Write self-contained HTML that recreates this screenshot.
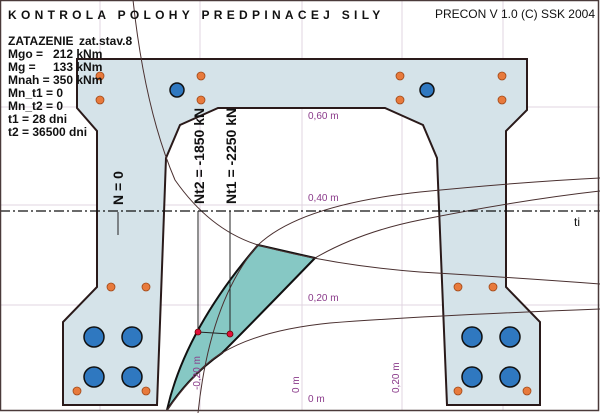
<!DOCTYPE html>
<html><head><meta charset="utf-8"><style>
html,body{margin:0;padding:0;background:#fff;}
svg{display:block;}
text{font-family:"Liberation Sans",Arial,sans-serif;}
</style></head><body>
<svg width="600" height="413" viewBox="0 0 600 413" xmlns="http://www.w3.org/2000/svg">
<rect x="0" y="0" width="600" height="413" fill="#fff"/>
<g stroke="#e0d4e0" stroke-width="1">
<line x1="100" y1="0" x2="100" y2="410"/>
<line x1="200" y1="0" x2="200" y2="410"/>
<line x1="302" y1="0" x2="302" y2="410"/>
<line x1="402" y1="0" x2="402" y2="410"/>
<line x1="503" y1="0" x2="503" y2="410"/>
<line x1="0" y1="107" x2="600" y2="107"/>
<line x1="0" y1="205" x2="600" y2="205"/>
<line x1="0" y1="305" x2="600" y2="305"/>
</g>
<path d="M77,59 L527,59 L527,110 L506,131 L506,287 L540,322 L540,405 L447,405 L437,158 L423,125 L385,108 L218,108 L180,125 L166,158 L157,405 L63,405 L63,322 L97,287 L97,131 L77,108 Z" fill="#d5e3e9" stroke="#2a1a1a" stroke-width="2"/>
<g fill="#2f78c0" stroke="#111" stroke-width="1.5">
<circle cx="177" cy="90" r="7"/><circle cx="427" cy="90" r="7"/>
<circle cx="94" cy="337" r="10"/><circle cx="132" cy="337" r="10"/>
<circle cx="94" cy="377" r="10"/><circle cx="132" cy="377" r="10"/>
<circle cx="472" cy="337" r="10"/><circle cx="510" cy="337" r="10"/>
<circle cx="472" cy="377" r="10"/><circle cx="510" cy="377" r="10"/>
</g>
<g fill="#e87a3c" stroke="#a04818" stroke-width="0.8">
<circle cx="100" cy="76" r="4"/><circle cx="100" cy="100" r="4"/>
<circle cx="201" cy="76" r="4"/><circle cx="201" cy="100" r="4"/>
<circle cx="400" cy="76" r="4"/><circle cx="400" cy="100" r="4"/>
<circle cx="502" cy="76" r="4"/><circle cx="502" cy="100" r="4"/>
<circle cx="111" cy="287" r="4"/><circle cx="146" cy="287" r="4"/>
<circle cx="77" cy="391" r="4"/><circle cx="146" cy="391" r="4"/>
<circle cx="458" cy="287" r="4"/><circle cx="493" cy="287" r="4"/>
<circle cx="458" cy="391" r="4"/><circle cx="527" cy="391" r="4"/>
</g>
<path d="M167,410 Q185,330 258,245 L315,258 Q255,320 222,353 Q190,375 167,410 Z" fill="#86c8c4" stroke="#111" stroke-width="2"/>
<g fill="none" stroke="#4a3030" stroke-width="1">
<path d="M133,0 Q145,110 175,180 Q210,230 258,245 Q330,265 420,272 Q520,278 600,284"/>
<path d="M167,410 Q200,365 222,353 Q260,330 330,323 Q420,316 600,309"/>
<path d="M198,413 Q210,300 258,245 Q300,205 420,192 Q520,182 600,178"/>
<path d="M315,258 Q360,232 420,220 Q520,200 600,191"/>
</g>
<line x1="0" y1="211" x2="600" y2="211" stroke="#111" stroke-width="1.3" stroke-dasharray="10,3,2,3"/>
<text x="574" y="226" font-size="12" fill="#111">ti</text>
<g stroke="#222" stroke-width="1">
<line x1="118" y1="212" x2="118" y2="235"/>
<line x1="198" y1="211" x2="198" y2="332"/>
<line x1="230" y1="211" x2="230" y2="334"/>
<line x1="198" y1="332" x2="230" y2="334"/>
</g>
<circle cx="198" cy="332" r="3" fill="#e0103a" stroke="#600" stroke-width="0.8"/>
<circle cx="230" cy="334" r="3" fill="#e0103a" stroke="#600" stroke-width="0.8"/>
<g font-size="14" font-weight="bold" fill="#111">
<text transform="translate(123,205) rotate(-90)">N = 0</text>
<text transform="translate(204,204) rotate(-90)">Nt2 = -1850 kN</text>
<text transform="translate(236,204) rotate(-90)">Nt1 = -2250 kN</text>
</g>
<g font-size="10" fill="#8a3a8a">
<text x="308" y="119">0,60 m</text>
<text x="308" y="201">0,40 m</text>
<text x="308" y="301">0,20 m</text>
<text x="308" y="402">0 m</text>
<text transform="translate(200,390) rotate(-90)">-0,20 m</text>
<text transform="translate(299,393) rotate(-90)">0 m</text>
<text transform="translate(399,393) rotate(-90)">0,20 m</text>
</g>
<text x="8" y="19" font-size="12" font-weight="bold" letter-spacing="4.3" fill="#111">KONTROLA POLOHY PREDPINACEJ SILY</text>
<text x="595" y="18" font-size="12" text-anchor="end" fill="#111">PRECON V 1.0 (C) SSK 2004</text>
<g font-size="12" font-weight="bold" fill="#111">
<text x="8" y="45">ZATAZENIE</text><text x="79" y="45">zat.stav.8</text>
<text x="8" y="58">Mgo =</text><text x="53" y="58">212 kNm</text>
<text x="8" y="71">Mg =</text><text x="53" y="71">133 kNm</text>
<text x="8" y="84">Mnah = 350 kNm</text>
<text x="8" y="97">Mn_t1 = 0</text>
<text x="8" y="110">Mn_t2 = 0</text>
<text x="8" y="123">t1 = 28 dni</text>
<text x="8" y="136">t2 = 36500 dni</text>
</g>
<rect x="0.5" y="0.5" width="598" height="410" fill="none" stroke="#4a3a3a" stroke-width="1.5"/>
</svg>
</body></html>
